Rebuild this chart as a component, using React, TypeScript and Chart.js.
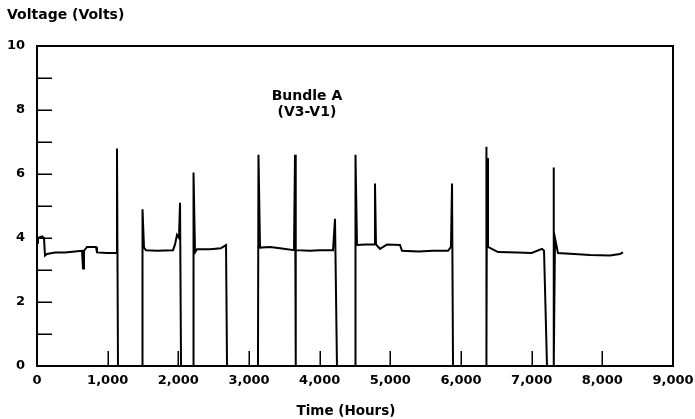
import React, { useEffect, useRef } from "react";
import { Chart, registerables } from "chart.js";

Chart.register(...registerables);

// Time in hours
const hours = [
  0, 14, 71, 99, 113, 142, 255, 396, 538, 637,
  651, 665, 708, 835, 849, 990, 1118, 1132, 1146, 1486,
  1493, 1514, 1542, 1700, 1925, 1953, 1981, 2009, 2024, 2038,
  2208, 2215, 2236, 2264, 2448, 2600, 2675, 2689, 3127, 3134,
  3156, 3300, 3439, 3637, 3651, 3658, 3665, 3863, 4000, 4189,
  4217, 4245, 4500, 4507, 4528, 4650, 4769, 4783, 4797, 4854,
  4953, 5137, 5165, 5400, 5600, 5816, 5858, 5873, 5887, 6354,
  6358, 6362, 6368, 6382, 6524, 6800, 7000, 7146, 7175, 7217,
  7302, 7309, 7316, 7330, 7372, 7600, 7825, 8108, 8250, 8292,
];
// Voltage V3-V1 in volts
const volts = [
  3.85, 4.0, 4.05, 4.0, 3.45, 3.5, 3.55, 3.55, 3.58, 3.6,
  3.05, 3.6, 3.72, 3.72, 3.55, 3.53, 3.53, 6.8, 0, 0,
  4.9, 3.7, 3.62, 3.6, 3.62, 3.8, 4.1, 4.0, 5.1, 0,
  0, 6.05, 3.55, 3.65, 3.65, 3.68, 3.78, 0, 0, 6.6,
  3.7, 3.72, 3.68, 3.62, 6.6, 0, 3.62, 3.6, 3.62, 3.62,
  4.6, 0, 0, 6.6, 3.78, 3.8, 3.8, 5.7, 3.8, 3.66,
  3.8, 3.78, 3.6, 3.58, 3.6, 3.6, 3.72, 5.7, 0, 0,
  6.85, 0.3, 6.5, 3.72, 3.56, 3.55, 3.53, 3.66, 3.6, 0,
  0, 6.2, 0, 4.0, 3.53, 3.5, 3.47, 3.45, 3.5, 3.55,
];

const xTickValues = [0, 1000, 2000, 3000, 4000, 5000, 6000, 7000, 8000, 9000];
const yTickValues = [0, 1, 2, 3, 4, 5, 6, 7, 8, 9, 10];
const yLabelValues = [0, 2, 4, 6, 8, 10];

const yTitle = "Voltage (Volts)";
const xTitle = "Time (Hours)";
const annotationLines = ["Bundle A", "(V3-V1)"];

const FONT = "'DejaVu Sans', sans-serif";

const framePlugin = {
  id: "framePlugin",
  afterDraw(chart: any) {
    const { ctx, chartArea, scales } = chart;
    const xs = scales.x;
    const ys = scales.y;
    ctx.save();
    ctx.strokeStyle = "#000";
    ctx.lineWidth = 2;
    ctx.strokeRect(chartArea.left, chartArea.top, chartArea.right - chartArea.left, chartArea.bottom - chartArea.top);
    ctx.lineWidth = 1.5;
    ctx.beginPath();
    for (const v of yTickValues) {
      const y = Math.round(ys.getPixelForValue(v)) + 0.25;
      ctx.moveTo(chartArea.left, y);
      ctx.lineTo(chartArea.left + 15, y);
    }
    for (const v of xTickValues) {
      const x = Math.round(xs.getPixelForValue(v)) + 0.25;
      ctx.moveTo(x, chartArea.bottom);
      ctx.lineTo(x, chartArea.bottom - 15);
    }
    ctx.stroke();

    ctx.fillStyle = "#000";
    ctx.font = `bold 14px ${FONT}`;
    ctx.textBaseline = "middle";
    ctx.textAlign = "left";
    ctx.fillText(yTitle, 7, 15);
    ctx.textAlign = "center";
    ctx.font = `bold 13.5px ${FONT}`;
    ctx.fillText(xTitle, 346, 411);

    ctx.font = `bold 14px ${FONT}`;
    const ax = xs.getPixelForValue(3820);
    ctx.fillText(annotationLines[0], ax, ys.getPixelForValue(8.42));
    ctx.fillText(annotationLines[1], ax, ys.getPixelForValue(7.92));
    ctx.restore();
  },
};

export default function App() {
  const ref = useRef<HTMLCanvasElement | null>(null);
  useEffect(() => {
    if (!ref.current) return;
    const chart = new Chart(ref.current, {
      type: "line",
      data: {
        datasets: [
          {
            data: hours.map((h, i) => ({ x: h, y: volts[i] })),
            borderColor: "#000",
            borderWidth: 2,
            pointRadius: 0,
            tension: 0,
            fill: false,
          },
        ],
      },
      options: {
        animation: false,
        responsive: false,
        maintainAspectRatio: false,
        layout: { padding: { top: 46, right: 22, left: 0, bottom: 0 } },
        plugins: { legend: { display: false }, tooltip: { enabled: false }, title: { display: false } },
        scales: {
          x: {
            type: "linear",
            min: 0,
            max: 9000,
            grid: { display: false, drawTicks: false },
            border: { display: false },
            afterFit: (s: any) => {
              s.height = 53;
              s.paddingLeft = 0;
              s.paddingRight = 0;
            },
            afterBuildTicks: (s: any) => {
              s.ticks = xTickValues.map((v) => ({ value: v }));
            },
            ticks: {
              padding: 7,
              color: "#000",
              maxRotation: 0,
              autoSkip: false,
              font: { family: FONT, size: 13, weight: "bold" },
              callback: (v: any) => Number(v).toLocaleString("en-US"),
            },
          },
          y: {
            type: "linear",
            min: 0,
            max: 10,
            grid: { display: false, drawTicks: false },
            border: { display: false },
            afterFit: (s: any) => {
              s.width = 37;
              s.paddingTop = 0;
              s.paddingBottom = 0;
            },
            afterBuildTicks: (s: any) => {
              s.ticks = yLabelValues.map((v) => ({ value: v }));
            },
            ticks: {
              padding: 12,
              color: "#000",
              autoSkip: false,
              font: { family: FONT, size: 13, weight: "bold" },
              callback: (v: any) => String(v),
            },
          },
        },
      },
      plugins: [framePlugin],
    });
    return () => chart.destroy();
  }, []);
  return (
    <div style={{ position: "fixed", left: 0, top: 0, width: 695, height: 419, background: "#fff" }}>
      <canvas ref={ref} width={695} height={419} style={{ display: "block", width: 695, height: 419 }} />
    </div>
  );
}
